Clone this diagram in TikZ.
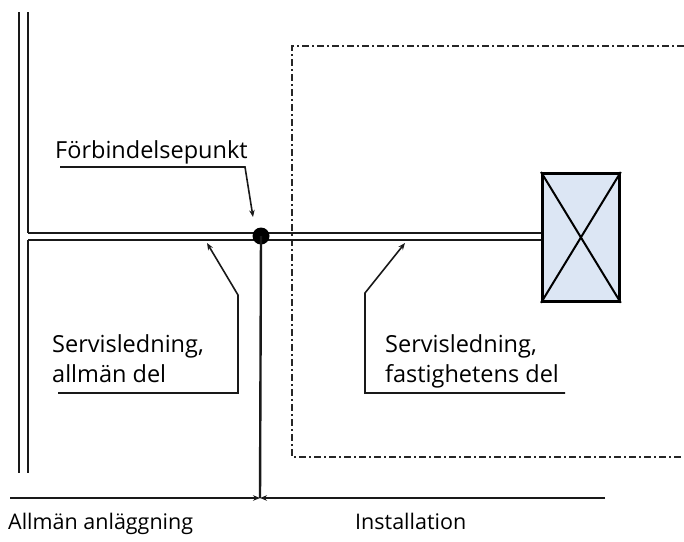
\documentclass[tikz,border=0pt]{standalone}
\usepackage{fontspec}
\setmainfont{Open Sans}
\usetikzlibrary{arrows.meta}
\definecolor{boxblue}{HTML}{DCE6F4}
\tikzset{
  pipe/.style={line width=2.6pt, black!90},
  wall/.style={line width=2.6pt, black!90},
  leader/.style={line width=1.6pt, black!90, -{Stealth[length=7pt,width=5.5pt]}},
  propline/.style={line width=2.2pt, black!85, dash pattern=on 7pt off 3pt on 2pt off 3pt},
  lbl/.style={inner sep=0pt, font=\fontsize{23.5}{30}\selectfont, align=left},
  btm/.style={inner sep=0pt, font=\fontsize{21.5}{30}\selectfont},
  dim/.style={line width=1.8pt, black!90, -{Stealth[length=7pt,width=5.5pt]}}
}
\begin{document}
\begin{tikzpicture}[x=1pt,y=-1pt]
\useasboundingbox (0,0) rectangle (684,541);
% coordinates
\coordinate (wtop1) at (19,12);
\coordinate (wbot1) at (19,473);
\coordinate (wtop2) at (28,12);
\coordinate (wmid2a) at (28,233);
\coordinate (wmid2b) at (28,240);
\coordinate (wbot2) at (28,473);
\coordinate (pipeTe) at (541,233);
\coordinate (pipeBe) at (541,240);
% wall (double line)
\draw[wall] (wtop1) -- (wbot1);
\draw[wall] (wtop2) -- (wmid2a);
\draw[wall] (wmid2b) -- (wbot2);
% property boundary
\coordinate (pbl) at (292,457);
\coordinate (ptl) at (292,46);
\coordinate (ptr) at (684,46);
\coordinate (pbr) at (684,457);
\draw[propline] (ptr) -- (ptl) -- (pbl) -- (pbr);
% pipe
\draw[pipe] (wmid2a) -- (pipeTe);
\draw[pipe] (wmid2b) -- (pipeBe);
% building box
\node[draw, line width=2.8pt, fill=boxblue, minimum width=77pt, minimum height=128pt, inner sep=0pt, anchor=north west] (box) at (541,172) {};
\draw[line width=2pt] (box.north west) -- (box.south east);
\draw[line width=2pt] (box.south west) -- (box.north east);
% connection point
\node[circle, fill=black, minimum size=17pt, inner sep=0pt] (dot) at (261,236) {};
\coordinate (split) at (260,498);
\draw[line width=2.4pt, black!90] (dot.center) -- (split);
% bottom dimension line
\coordinate (dimL) at (10,498);
\coordinate (dimR) at (605,498);
\draw[dim] (dimL) -- (split);
\draw[dim] (dimR) -- (split);
% labels
\node[lbl, anchor=base west] (fp) at (55,158) {Förbindelsepunkt};
\coordinate (fp1) at (60,167);
\coordinate (fp2) at (245,167);
\coordinate (fpt) at (253,217);
\draw[leader] (fp1) -- (fp2) -- (fpt);
\node[lbl, anchor=base west] (sa) at (52,382) {Servisledning,\\allmän del};
\coordinate (sa1) at (58,393);
\coordinate (sa2) at (238,393);
\coordinate (sa3) at (238,295);
\coordinate (sat) at (207,243);
\draw[leader] (sa1) -- (sa2) -- (sa3) -- (sat);
\node[lbl, anchor=base west] (sf) at (385,382) {Servisledning,\\fastighetens del};
\coordinate (sf1) at (565,393);
\coordinate (sf2) at (365,393);
\coordinate (sf3) at (365,293);
\coordinate (sft) at (405,243);
\draw[leader] (sf1) -- (sf2) -- (sf3) -- (sft);
\node[btm, anchor=base west] (al) at (8,529) {Allmän anläggning};
\node[btm, anchor=base west] (in) at (355,529) {Installation};
\end{tikzpicture}
\end{document}
